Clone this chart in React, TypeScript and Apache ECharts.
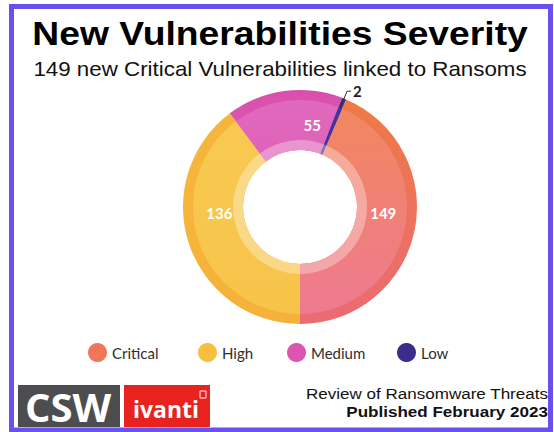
import React, { useEffect, useRef } from "react";
import * as echarts from "echarts";

const categories = ["Critical", "High", "Medium", "Low"];
const values = [149, 136, 55, 2];
const legendColors = ["#ef7656", "#f7bf3f", "#dc56b0", "#3a2d8c"];
const rimColors = [
  ["#ef7a46", "#ea6b72"],
  ["#f6b63c", "#f5b23a"],
  ["#d94fac", "#dc5cb4"],
  ["#3a2d8c", "#3a2d8c"],
];
const bodyColors = [
  ["#f2875f", "#ee7a90"],
  ["#f8c951", "#f7c44a"],
  ["#e169bd", "#de62b8"],
  ["#4332a0", "#4332a0"],
];
const labelOffsets = [
  [0, -11],
  [0, -21],
  [24, 2],
  [0, 0],
];
const titleText = "New Vulnerabilities Severity";
const subtitleText = "149 new Critical Vulnerabilities linked to Ransoms";
const footerLine1 = "Review of Ransomware Threats";
const footerLine2 = "Published February 2023";

function grad(c: string[]) {
  return new echarts.graphic.LinearGradient(0, 0, 0, 1, [
    { offset: 0, color: c[0] },
    { offset: 1, color: c[1] },
  ]);
}

export default function App() {
  const ref = useRef<HTMLDivElement>(null);
  useEffect(() => {
    if (!ref.current) return;
    const chart = echarts.init(ref.current, null, { renderer: "svg" });
    const total = values.reduce((a, b) => a + b, 0);
    const startAngle = (values[0] / total) * 360 - 90;
    const center = [300, 207];

    const baseData = categories.map((name, i) => ({
      name,
      value: values[i],
      itemStyle: { color: grad(rimColors[i]) },
    }));
    const bodyData = categories.map((name, i) => ({
      name,
      value: values[i],
      itemStyle: { color: grad(bodyColors[i]) },
      label:
        name === "Low"
          ? {
              show: true,
              position: "outside",
              color: "#1a1a2e",
              fontWeight: "bold",
              fontSize: 15,
              fontFamily: "Lato",
              distanceToLabelLine: 2,
            }
          : undefined,
      labelLine:
        name === "Low"
          ? { show: true, length: 18, length2: 4, lineStyle: { color: "#333", width: 1 } }
          : undefined,
    }));
    const innerData = categories.map((name, i) => ({
      name,
      value: values[i],
      itemStyle: { color: "rgba(255,255,255,0.32)" },
    }));

    const common = {
      type: "pie",
      center,
      startAngle,
      clockwise: true,
      avoidLabelOverlap: false,
      emphasis: { disabled: true },
      animation: false,
    };

    chart.setOption({
      animation: false,
      backgroundColor: "#ffffff",
      legend: categories.map((name, i) => ({
        data: [{ name, itemStyle: { color: legendColors[i] } }],
        left: [88, 198, 287, 397][i],
        top: 343,
        padding: 0,
        icon: "circle",
        itemWidth: 19,
        itemHeight: 19,
        itemGap: 5,
        selectedMode: false,
        textStyle: { fontFamily: "Lato", fontSize: 15, color: "#2e2e2e" },
      })),
      series: [
        {
          ...common,
          name: "rim",
          radius: [57, 117],
          label: { show: false },
          labelLine: { show: false },
          silent: true,
          data: baseData,
          z: 1,
        },
        {
          ...common,
          name: "Severity",
          radius: [57, 107],
          label: {
            show: true,
            position: "inside",
            formatter: "{c}",
            color: "#ffffff",
            fontWeight: "bold",
            fontSize: 15,
            fontFamily: "Lato",
          },
          labelLine: { show: false },
          labelLayout: (params: any) => {
            const o = labelOffsets[params.dataIndex] || [0, 0];
            return { dx: o[0], dy: o[1] };
          },
          data: bodyData,
          z: 2,
        },
        {
          ...common,
          name: "inner",
          radius: [57, 67],
          label: { show: false },
          labelLine: { show: false },
          silent: true,
          data: innerData,
          z: 3,
        },
      ],
      graphic: [
        {
          type: "rect",
          shape: { x: 11.5, y: 6.5, width: 539, height: 423.5 },
          style: { fill: "none", stroke: "#6a50ef", lineWidth: 5 },
          silent: true,
        },
        {
          type: "text",
          x: 280,
          y: 34,
          scaleX: 1.096,
          style: {
            text: titleText,
            fontSize: 34,
            fontWeight: "bold",
            fontFamily: "Liberation Sans",
            fill: "#000",
            align: "center",
            verticalAlign: "middle",
          },
        },
        {
          type: "text",
          x: 280,
          y: 69,
          scaleX: 1.064,
          style: {
            text: subtitleText,
            fontSize: 21,
            fontFamily: "Liberation Sans",
            fill: "#111",
            align: "center",
            verticalAlign: "middle",
          },
        },
        {
          type: "rect",
          shape: { x: 18, y: 385, width: 102, height: 42 },
          style: { fill: "#4d4d4f" },
        },
        {
          type: "text",
          x: 68,
          y: 406,
          style: {
            text: "CSW",
            fontSize: 40,
            fontWeight: "bold",
            fontFamily: "Open Sans",
            fill: "#ffffff",
            align: "center",
            verticalAlign: "middle",
          },
        },
        {
          type: "rect",
          shape: { x: 124, y: 385, width: 86, height: 42 },
          style: { fill: "#e8221e" },
        },
        {
          type: "text",
          x: 166,
          y: 409,
          style: {
            text: "ivanti",
            fontSize: 23,
            fontWeight: "bold",
            fontFamily: "Open Sans",
            fill: "#ffffff",
            align: "center",
            verticalAlign: "middle",
          },
        },
        {
          type: "rect",
          shape: { x: 200, y: 391, width: 6, height: 7 },
          style: { fill: "none", stroke: "#ffffff", lineWidth: 1 },
        },
        {
          type: "text",
          x: 548,
          y: 393.5,
          scaleX: 1.1,
          style: {
            text: footerLine1,
            fontSize: 15.5,
            fontFamily: "Liberation Sans",
            fill: "#111",
            align: "right",
            verticalAlign: "middle",
          },
        },
        {
          type: "text",
          x: 548,
          y: 411.5,
          scaleX: 1.1,
          style: {
            text: footerLine2,
            fontSize: 15.5,
            fontWeight: "bold",
            fontFamily: "Liberation Sans",
            fill: "#111",
            align: "right",
            verticalAlign: "middle",
          },
        },
      ],
    });
    return () => chart.dispose();
  }, []);
  return (
    <div
      ref={ref}
      style={{ position: "fixed", left: 0, top: 0, width: 554, height: 432 }}
    />
  );
}
